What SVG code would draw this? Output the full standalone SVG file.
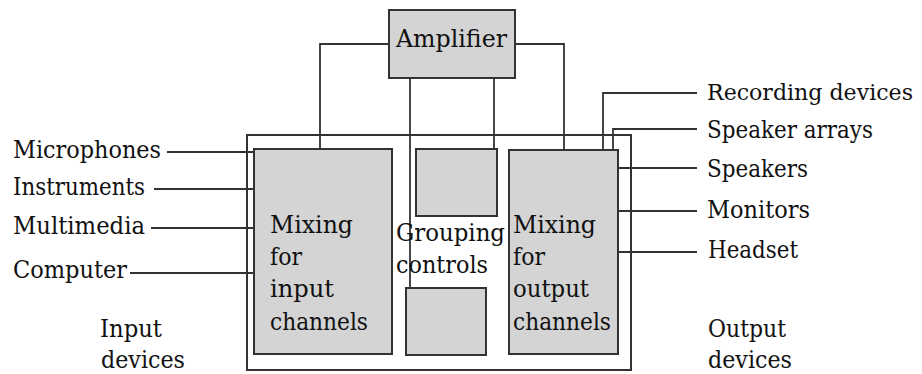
<svg xmlns="http://www.w3.org/2000/svg" width="922" height="374" viewBox="0 0 922 374">
<style>
.t{font-family:'DejaVu Serif',serif;font-size:24.5px;fill:#111}
.box{fill:#d4d4d4;stroke:#333;stroke-width:2}
.frame{fill:none;stroke:#333;stroke-width:2}
.wire{fill:none;stroke:#333;stroke-width:1.8}
</style>
<rect width="922" height="374" fill="#fff"/>
<g id="mixer-frame"><rect class="frame" x="247" y="135" width="384" height="235"/></g>
<g id="connectors">
<path class="wire" d="M389,44 H320 V149"/>
<path class="wire" d="M515,44 H564 V150"/>
<path class="wire" d="M410,78 V288"/>
<path class="wire" d="M494,78 V149"/>
<path class="wire" d="M167,152 H254"/>
<path class="wire" d="M154,189 H254"/>
<path class="wire" d="M151,228 H254"/>
<path class="wire" d="M130,273 H254"/>
<path class="wire" d="M697,93 H603 V150"/>
<path class="wire" d="M697,129 H613 V150"/>
<path class="wire" d="M618,168 H697"/>
<path class="wire" d="M618,211 H697"/>
<path class="wire" d="M618,252 H697"/>
</g>
<g class="t">
<g id="amplifier"><rect class="box" x="389" y="10" width="126" height="68"/><text x="396" y="47" textLength="111" lengthAdjust="spacingAndGlyphs">Amplifier</text></g>
<g id="input-mixing"><rect class="box" x="254" y="149" width="138" height="205"/>
<text x="270" y="233" textLength="83" lengthAdjust="spacingAndGlyphs">Mixing</text><text x="270" y="265" textLength="32" lengthAdjust="spacingAndGlyphs">for</text><text x="270" y="297" textLength="64" lengthAdjust="spacingAndGlyphs">input</text><text x="270" y="330" textLength="98" lengthAdjust="spacingAndGlyphs">channels</text></g>
<g id="group-top"><rect class="box" x="416" y="149" width="81" height="67"/></g>
<g id="group-bottom"><rect class="box" x="406" y="288" width="80" height="67"/></g>
<g id="grouping-label"><text x="396" y="241" textLength="109" lengthAdjust="spacingAndGlyphs">Grouping</text><text x="396" y="273" textLength="92" lengthAdjust="spacingAndGlyphs">controls</text></g>
<g id="output-mixing"><rect class="box" x="509" y="150" width="109" height="204"/>
<text x="513" y="233" textLength="83" lengthAdjust="spacingAndGlyphs">Mixing</text><text x="513" y="265" textLength="32" lengthAdjust="spacingAndGlyphs">for</text><text x="513" y="297" textLength="76" lengthAdjust="spacingAndGlyphs">output</text><text x="513" y="330" textLength="98" lengthAdjust="spacingAndGlyphs">channels</text></g>
<g id="inputs">
<text x="13" y="158" textLength="148" lengthAdjust="spacingAndGlyphs">Microphones</text>
<text x="13" y="195" textLength="132" lengthAdjust="spacingAndGlyphs">Instruments</text>
<text x="13" y="234" textLength="132" lengthAdjust="spacingAndGlyphs">Multimedia</text>
<text x="13" y="278" textLength="114" lengthAdjust="spacingAndGlyphs">Computer</text>
<text x="100" y="337" textLength="62" lengthAdjust="spacingAndGlyphs">Input</text><text x="101" y="368" textLength="84" lengthAdjust="spacingAndGlyphs">devices</text>
</g>
<g id="outputs">
<text x="707" y="100" font-size="22.5" textLength="206" lengthAdjust="spacingAndGlyphs">Recording devices</text>
<text x="707" y="138" textLength="166" lengthAdjust="spacingAndGlyphs">Speaker arrays</text>
<text x="707" y="177" textLength="101" lengthAdjust="spacingAndGlyphs">Speakers</text>
<text x="707" y="218" textLength="103" lengthAdjust="spacingAndGlyphs">Monitors</text>
<text x="708" y="258" textLength="90" lengthAdjust="spacingAndGlyphs">Headset</text>
<text x="708" y="337" textLength="78" lengthAdjust="spacingAndGlyphs">Output</text><text x="708" y="368" textLength="84" lengthAdjust="spacingAndGlyphs">devices</text>
</g>
</g>
</svg>
